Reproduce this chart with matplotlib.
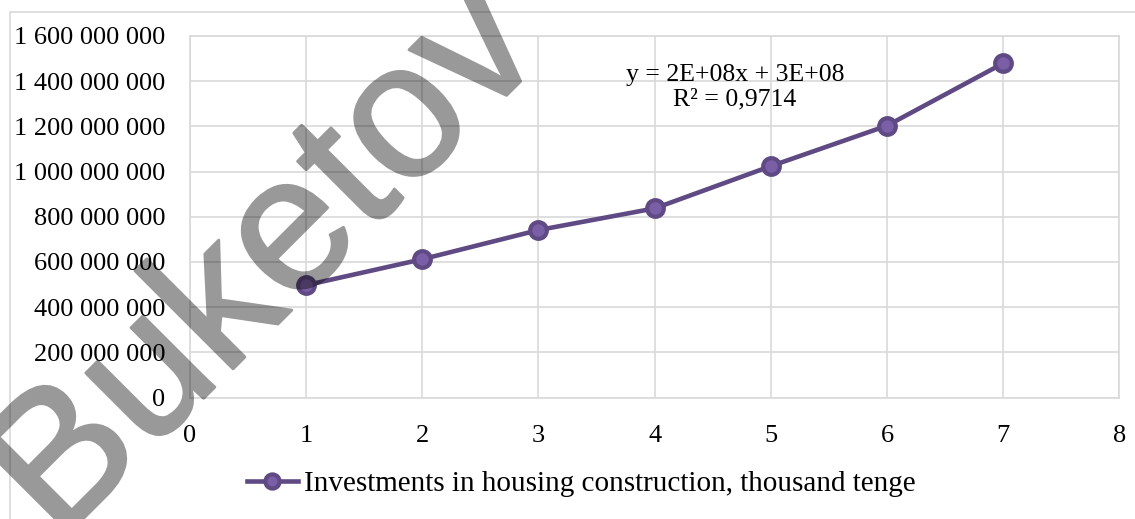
import matplotlib
matplotlib.use("Agg")
import matplotlib.pyplot as plt
import matplotlib.patheffects as pe
from matplotlib.patches import Rectangle

# Data
years_idx = [1, 2, 3, 4, 5, 6, 7]
investments = [497e6, 612e6, 741e6, 837e6, 1024e6, 1203e6, 1479e6]
series_label = "Investments in housing construction, thousand tenge"
equation = "y = 2E+08x + 3E+08\nR² = 0,9714"
y_ticks = [0, 200e6, 400e6, 600e6, 800e6, 1000e6, 1200e6, 1400e6, 1600e6]
x_ticks = [0, 1, 2, 3, 4, 5, 6, 7, 8]
watermark = "Buketov"

W, H = 1135, 519
fig = plt.figure(figsize=(W / 100, H / 100), dpi=100)
serif = ["Liberation Serif", "DejaVu Serif"]

# outer chart border
fig.patches.append(Rectangle((10 / W, -0.1), 1.2, (H - 11.5) / H + 0.1,
                             transform=fig.transFigure, fill=False,
                             edgecolor="#d9d9d9", linewidth=1.2))

ax = fig.add_axes([190 / W, 1 - 397.5 / H, (1119.3 - 190) / W, (397.5 - 36) / H])
line_col = "#5f4a84"
ax.plot(years_idx, investments, color=line_col, linewidth=3.3, marker="o",
        markersize=12, markerfacecolor="#7a5fa6", markeredgecolor=line_col,
        markeredgewidth=3.0, label=series_label, zorder=3)

ax.set_xlim(0, 8)
ax.set_ylim(0, 1600e6)
ax.set_xticks(x_ticks)
ax.set_yticks(y_ticks)
ax.set_xticklabels([str(v) for v in x_ticks])
ax.set_yticklabels([f"{int(v):,}".replace(",", " ") for v in y_ticks])
for lab in ax.get_xticklabels() + ax.get_yticklabels():
    lab.set_fontfamily(serif)
    lab.set_fontsize(19)
ax.tick_params(length=0, pad=18)
ax.tick_params(axis="x", pad=20)
ax.grid(True, color="#d9d9d9", linewidth=1.2)
ax.set_axisbelow(True)
for s in ax.spines.values():
    s.set_color("#d9d9d9")
    s.set_linewidth(1.2)

fig.text(735 / W, 1 - 87 / H, equation, ha="center", va="center",
         fontsize=18.5, family=serif, linespacing=1.12)

leg = fig.legend(loc="center", bbox_to_anchor=(581 / W, 1 - 484 / H),
                 frameon=False, prop={"family": serif, "size": 21},
                 handlelength=1.75, handletextpad=0.2, borderaxespad=0,
                 borderpad=0, markerscale=0.85)


def translucent(im, dpi):
    out = im.copy()
    out[..., :3] = 0.0
    out[..., 3] = im[..., 3] * 0.40
    return out, 0, 0


wm = fig.text(268 / W, 1 - 264 / H, watermark, rotation=45,
              rotation_mode="anchor", ha="center", va="center",
              fontsize=138, family=["Liberation Sans", "DejaVu Sans"],
              color="black", zorder=10,
              path_effects=[pe.Stroke(linewidth=2.0, foreground="black"),
                            pe.Normal()])
wm.set_agg_filter(translucent)

fig.savefig("out.png", dpi=100)
